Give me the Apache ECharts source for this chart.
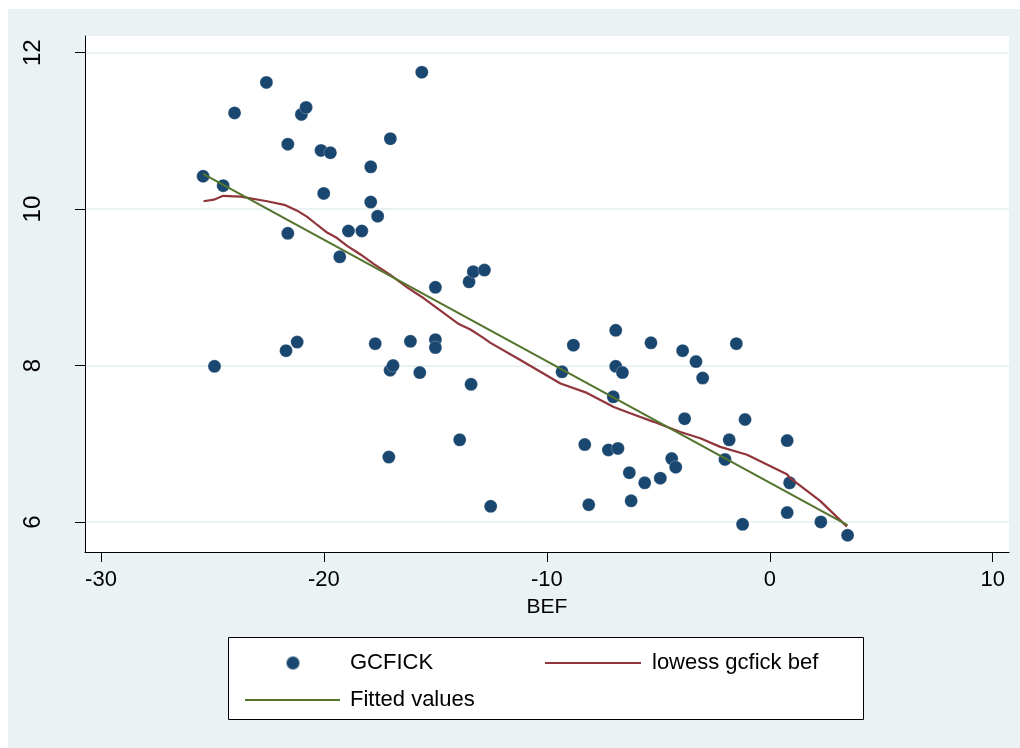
<!DOCTYPE html>
<html>
<head>
<meta charset="utf-8">
<script src="https://cdn.jsdelivr.net/npm/echarts@6/dist/echarts.min.js"></script>
<style>
html,body{margin:0;padding:0;background:#fff;}
#chart{width:1020px;height:748px;}
</style>
</head>
<body>
<div id="chart"></div>
<script>
// ---- data ----
const xTicks = [-30, -20, -10, 0, 10];
const yTicks = [6, 8, 10, 12];
const xName = 'BEF';
const seriesNames = ['GCFICK', 'lowess gcfick bef', 'Fitted values'];

const befValues = [
  -25.42, -24.52, -24.01, -22.58, -21.62, -21.62, -21.01, -20.80, -20.13, -19.71,
  -20.01, -19.29, -18.90, -18.30, -17.90, -17.90, -17.59, -17.02, -15.61, -15.00,
  -13.49, -13.30, -12.80, -24.91, -21.70, -21.20, -17.70, -17.03, -16.90, -17.09,
  -16.12, -15.70, -15.00, -15.00, -13.40, -13.91, -12.52, -9.32, -8.81, -8.30,
  -8.12, -7.24, -6.81, -6.91, -6.91, -6.61, -7.02, -6.30, -6.22, -5.61,
  -5.33, -4.91, -4.40, -4.22, -3.91, -3.82, -3.31, -3.01, -2.01, -1.82,
  -1.50, -1.11, -1.22, 0.78, 0.89, 0.78, 2.29, 3.49
];
const gcfickValues = [
  10.42, 10.30, 11.23, 11.62, 10.83, 9.69, 11.21, 11.30, 10.75, 10.72,
  10.20, 9.39, 9.72, 9.72, 10.54, 10.09, 9.91, 10.90, 11.75, 9.00,
  9.07, 9.20, 9.22, 7.99, 8.19, 8.30, 8.28, 7.94, 8.00, 6.83,
  8.31, 7.91, 8.33, 8.23, 7.76, 7.05, 6.20, 7.92, 8.26, 6.99,
  6.22, 6.92, 6.94, 8.45, 7.99, 7.91, 7.60, 6.63, 6.27, 6.50,
  8.29, 6.56, 6.81, 6.70, 8.19, 7.32, 8.05, 7.84, 6.80, 7.05,
  8.28, 7.31, 5.97, 7.04, 6.50, 6.12, 6.00, 5.83
];

const lowessX = [
  -25.40, -24.94, -24.52, -23.74, -22.55, -21.73, -21.20, -20.75, -20.31, -19.86,
  -19.41, -18.96, -18.36, -17.77, -17.02, -16.27, -15.52, -15.00, -13.95, -13.43,
  -12.83, -12.53, -11.19, -9.39, -8.20, -7.00, -6.26, -5.21, -4.01, -3.12,
  -2.22, -1.02, 0.77, 0.92, 2.26, 3.46
];
const lowessY = [
  10.10, 10.12, 10.17, 10.16, 10.10, 10.05, 9.98, 9.90, 9.80, 9.70,
  9.63, 9.53, 9.42, 9.30, 9.16, 9.00, 8.86, 8.75, 8.53, 8.46,
  8.35, 8.29, 8.07, 7.77, 7.65, 7.47, 7.39, 7.28, 7.15, 7.07,
  6.96, 6.86, 6.61, 6.56, 6.27, 5.94
];

const fitX = [-25.42, 3.49];
const fitY = [10.45, 5.96];

// ---- build options ----
const zip = (a, b) => a.map((v, i) => [v, b[i]]);
const FONT = '"Liberation Sans", Arial, sans-serif';
const legendText = {fontFamily: FONT, fontSize: 22, color: '#000'};

const chart = echarts.init(document.getElementById('chart'), null, {renderer: 'canvas'});
chart.setOption({
  animation: false,
  backgroundColor: '#ffffff',
  graphic: [
    {type: 'rect', z: -10, silent: true, shape: {x: 8, y: 9, width: 1012, height: 739}, style: {fill: '#EAF2F3'}},
    {type: 'rect', z: 1, silent: true, shape: {x: 228.5, y: 637.5, width: 635, height: 82}, style: {fill: '#ffffff', stroke: '#000000', lineWidth: 1}}
  ],
  grid: {
    left: 85, right: 11, top: 36, bottom: 196,
    show: true, backgroundColor: '#ffffff', borderWidth: 0, z: 0
  },
  xAxis: {
    type: 'value', min: -30.718, max: 10.731,
    name: xName, nameLocation: 'middle', nameGap: 45,
    nameTextStyle: {fontFamily: FONT, fontSize: 21, color: '#000'},
    axisLine: {show: true, onZero: false, lineStyle: {color: '#000', width: 1}},
    axisTick: {show: true, length: 10, customValues: xTicks, lineStyle: {color: '#000'}},
    axisLabel: {show: true, customValues: xTicks, margin: 17, fontFamily: FONT, fontSize: 22, color: '#000'},
    splitLine: {show: false}
  },
  yAxis: {
    type: 'value', min: 5.616, max: 12.213,
    axisLine: {show: true, onZero: false, lineStyle: {color: '#000', width: 1}},
    axisTick: {show: true, length: 10, customValues: yTicks, lineStyle: {color: '#000'}},
    axisLabel: {show: true, customValues: yTicks, rotate: 90, margin: 40, fontFamily: FONT, fontSize: 24, color: '#000'},
    splitLine: {show: true, lineStyle: {color: '#EAF2F3', width: 2}}
  },
  legend: [
    {data: [{name: seriesNames[0], icon: 'circle'}], left: 280, top: 647, itemWidth: 14, itemHeight: 14,
     textStyle: Object.assign({padding: [0, 0, 0, 45]}, legendText), z: 5},
    {data: [{name: seriesNames[1], icon: 'rect'}], left: 540, top: 647, itemWidth: 96, itemHeight: 2,
     textStyle: Object.assign({padding: [0, 0, 0, 6]}, legendText), z: 5},
    {data: [{name: seriesNames[2], icon: 'rect'}], left: 240, top: 684, itemWidth: 95, itemHeight: 2,
     textStyle: Object.assign({padding: [0, 0, 0, 5]}, legendText), z: 5}
  ],
  series: [
    {
      name: seriesNames[0], type: 'scatter', data: zip(befValues, gcfickValues),
      symbol: 'circle', symbolSize: 13,
      itemStyle: {color: '#1A476F', opacity: 1, borderColor: 'rgba(255,255,255,0.5)', borderWidth: 0.5},
      z: 2
    },
    {
      name: seriesNames[1], type: 'line', data: zip(lowessX, lowessY),
      showSymbol: false, symbol: 'none',
      lineStyle: {color: '#90353B', width: 2.2},
      itemStyle: {color: '#90353B'},
      z: 3
    },
    {
      name: seriesNames[2], type: 'line', data: zip(fitX, fitY),
      showSymbol: false, symbol: 'none',
      lineStyle: {color: '#55752F', width: 2.2},
      itemStyle: {color: '#55752F'},
      z: 4
    }
  ]
});
</script>
</body>
</html>
